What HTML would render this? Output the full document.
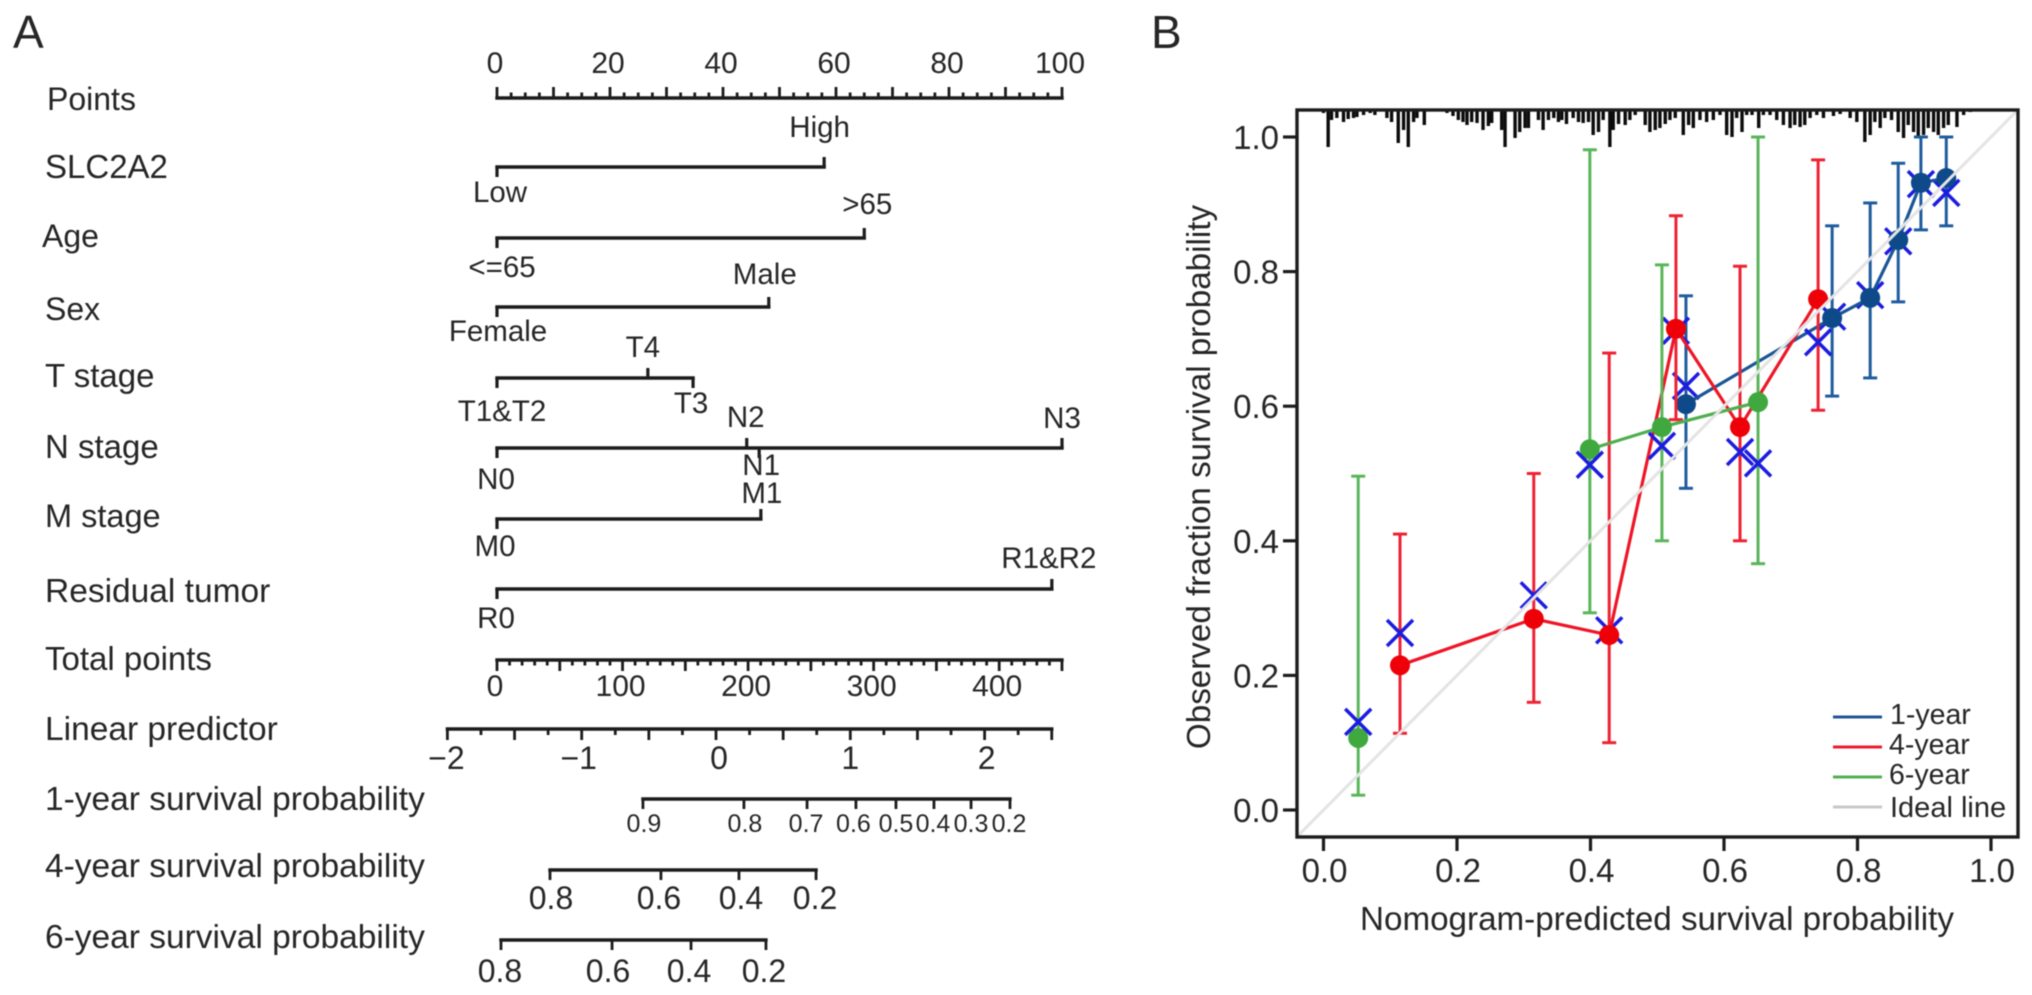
<!DOCTYPE html>
<html lang="en">
<head>
<meta charset="utf-8">
<title>Nomogram and calibration curve</title>
<style>
html,body{margin:0;padding:0;background:#fff;width:2032px;height:995px;overflow:hidden}
svg{display:block;filter:blur(.55px)}
text{font-family:"Liberation Sans",Arial,sans-serif;fill:#262626}
</style>
</head>
<body>
<svg id="fig" xmlns="http://www.w3.org/2000/svg" width="2032" height="995" viewBox="0 0 2032 995">
  <rect width="2032" height="995" fill="#fff"/>
  <text x="13" y="48" font-size="46">A</text>
  <text x="1151" y="48" font-size="46">B</text>

  <g id="nomogram">
    <text x="47" y="110" font-size="32">Points</text>
    <text x="45" y="178" font-size="33">SLC2A2</text>
    <text x="42" y="247" font-size="32">Age</text>
    <text x="45" y="320" font-size="32">Sex</text>
    <text x="45" y="387" font-size="33">T stage</text>
    <text x="45" y="458" font-size="33">N stage</text>
    <text x="45" y="527" font-size="32.5">M stage</text>
    <text x="45" y="602" font-size="33.5">Residual tumor</text>
    <text x="45" y="670" font-size="33">Total points</text>
    <text x="45" y="740" font-size="33.5">Linear predictor</text>
    <text x="45" y="810" font-size="33.5">1-year survival probability</text>
    <text x="45" y="877" font-size="33.5">4-year survival probability</text>
    <text x="45" y="948" font-size="33.5">6-year survival probability</text>
  </g>

  <g id="calibration">
    <text transform="translate(1210,477) rotate(-90)" text-anchor="middle" font-size="33.2">Observed fraction survival probability</text>
    <text x="1657" y="930" text-anchor="middle" font-size="33.2">Nomogram-predicted survival probability</text>
  </g>

  <g id="legend">
    <line x1="1833" x2="1882" y1="717" y2="717" stroke="#1f5596" stroke-width="3"/>
    <text x="1890" y="724" font-size="28.5">1-year</text>
    <line x1="1833" x2="1882" y1="747" y2="747" stroke="#ee1c2e" stroke-width="3"/>
    <text x="1889" y="754" font-size="28.5">4-year</text>
    <line x1="1833" x2="1882" y1="777" y2="777" stroke="#52b152" stroke-width="3"/>
    <text x="1889" y="784" font-size="28.5">6-year</text>
    <line x1="1833" x2="1882" y1="807" y2="807" stroke="#c8c8c8" stroke-width="3"/>
    <text x="1890" y="817" font-size="29">Ideal line</text>
  </g>
</svg>

<script>
/* ---------- Nomogram values ---------- */
const pointsTickLabels = ['0','20','40','60','80','100'];
const pointsTickValues = [0,20,40,60,80,100];
const categoryLabels = [['Low','High'],['<=65','>65'],['Female','Male'],['T1&T2','T4','T3'],['N0','N2','N1','N3'],['M0','M1'],['R0','R1&R2']];
const categoryPoints = [[0,57.9],[0,65],[0,48.1],[0,26.7,34.7],[0,44.2,46.4,100],[0,46.7],[0,98.2]];
const totalTickValues = [0,100,200,300,400];
const totalTickLabels = ['0','100','200','300','400'];
const predictorTickValues = [-2,-1,0,1,2];
const predictorTickLabels = ['\u22122','\u22121','0','1','2'];
const oneYearLabels = ['0.9','0.8','0.7','0.6','0.5','0.4','0.3','0.2'];
const oneYearPredictor = [-0.544,0.208,0.678,1.042,1.340,1.623,1.899,2.189];
const fourYearLabels = ['0.8','0.6','0.4','0.2'];
const fourYearPredictor = [-1.236,-0.41,0.171,0.745];
const sixYearLabels = ['0.8','0.6','0.4','0.2'];
const sixYearPredictor = [-1.601,-0.774,-0.186,0.372];

/* ---------- Calibration values ---------- */
const axisTickValues = [0,0.2,0.4,0.6,0.8,1];
const axisTickLabels = ['0.0','0.2','0.4','0.6','0.8','1.0'];
const oneYearPred = [0.543,0.762,0.819,0.861,0.895,0.933];
const oneYearObs = [0.603,0.731,0.761,0.847,0.932,0.939];
const oneYearLow = [0.478,0.615,0.642,0.755,0.862,0.868];
const oneYearHigh = [0.764,0.868,0.902,0.961,1.0,1.0];
const oneYearCross = [0.63,0.733,0.765,0.845,0.93,0.917];
const fourYearPred = [0.1146,0.315,0.428,0.528,0.624,0.741];
const fourYearObs = [0.215,0.284,0.26,0.715,0.569,0.759];
const fourYearLow = [0.114,0.16,0.10,0.58,0.40,0.594];
const fourYearHigh = [0.41,0.50,0.679,0.883,0.808,0.966];
const fourYearCross = [0.263,0.319,0.267,0.712,0.532,0.695];
const sixYearPred = [0.052,0.399,0.507,0.651];
const sixYearObs = [0.107,0.536,0.569,0.606];
const sixYearLow = [0.022,0.293,0.40,0.366];
const sixYearHigh = [0.496,0.981,0.81,1.0];
const sixYearCross = [0.131,0.513,0.541,0.515];
const rugPredicted = [0,.007,.012,.020,.030,.037,.045,.050,.060,.070,.077,.095,.102,.112,.120,.127,.135,.140,.151,.185,.194,.202,.209,.215,.222,.230,.239,.247,.252,.267,.272,.287,.294,.302,.307,.322,.329,.337,.345,.352,.357,.364,.374,.382,.389,.397,.404,.412,.419,.429,.434,.442,.452,.459,.467,.482,.489,.497,.504,.512,.519,.527,.539,.547,.554,.564,.574,.584,.594,.604,.612,.619,.627,.634,.642,.652,.659,.669,.679,.689,.699,.706,.714,.721,.729,.739,.749,.764,.774,.789,.799,.811,.819,.826,.834,.841,.851,.861,.869,.876,.884,.891,.899,.906,.914,.921,.929,.936,.949,.959,.969];
const rugCounts = [3,37,10,8,12,9,8,7,5,3,5,8,12,33,20,37,12,8,15,3,6,10,12,15,12,13,20,16,13,20,37,28,22,18,18,10,20,10,8,12,10,14,8,12,13,12,25,22,10,37,20,14,15,10,5,15,22,20,18,14,10,8,25,15,18,10,12,10,5,25,27,8,22,5,5,18,5,5,10,15,18,15,17,15,8,5,8,6,4,8,12,32,25,12,18,8,10,22,28,15,22,28,25,18,22,25,18,15,17,5,2];

/* ---------- Scales ---------- */
function xPoints(v){ return 497 + 5.65 * v; }
function xTotal(v){ return 497 + 1.2555 * v; }
function xPredictor(v){ return 716 + 134.3 * v; }
function xProb(v){ return 1323.5 + 667.5 * v; }
function yProb(v){ return 810 - 673 * v; }

/* ---------- Drawing helpers ---------- */
const NS = 'http://www.w3.org/2000/svg';
const INK = '#1c1c1c';
const nomoGroup = document.getElementById('nomogram');
const calGroup = document.getElementById('calibration');

function drawLine(parent, name, x1, y1, x2, y2, color, width, cap){
  const el = document.createElementNS(NS, 'line');
  
  
  el.setAttribute('x1', x1);
  el.setAttribute('y1', y1);
  el.setAttribute('x2', x2);
  el.setAttribute('y2', y2);
  el.setAttribute('stroke', color);
  el.setAttribute('stroke-width', width);
  el.setAttribute('stroke-linecap', cap || 'square');
  parent.appendChild(el);
  return el;
}
function drawText(parent, name, str, x, y, size, anchor){
  const el = document.createElementNS(NS, 'text');
  
  
  el.setAttribute('x', x);
  el.setAttribute('y', y);
  el.setAttribute('font-size', size);
  el.setAttribute('text-anchor', anchor || 'middle');
  el.textContent = str;
  parent.appendChild(el);
  return el;
}
function drawCircle(parent, name, cx, cy, r, color){
  const el = document.createElementNS(NS, 'circle');
  
  
  el.setAttribute('cx', cx);
  el.setAttribute('cy', cy);
  el.setAttribute('r', r);
  el.setAttribute('fill', color);
  parent.appendChild(el);
  return el;
}

/* ---------- Points axis ---------- */
const pointsY = 98;
drawLine(nomoGroup, 'points-axis-line', xPoints(0), pointsY, xPoints(100), pointsY, INK, 3.4);
for (let i = 0; i <= 40; i++) {
  const v = i * 2.5;
  drawLine(nomoGroup, 'points-tick', xPoints(v), pointsY, xPoints(v), pointsY - (i % 4 === 0 ? 11 : 5.5), INK, 2.8, 'butt');
}
pointsTickValues.forEach(function(v, i){
  drawText(nomoGroup, 'points-tick-label', pointsTickLabels[i], xPoints(v) - 2, 73, 30);
});

/* ---------- Categorical rows ---------- */
const rowBaselines = [167,238,307,378,448,519,589];
const rowSlugs = ['slc2a2','age','sex','t-stage','n-stage','m-stage','residual-tumor'];
const tickDirections = [[1,-1],[1,-1],[1,-1],[1,-1,1],[1,-1,1,-1],[1,-1],[1,-1]];
const labelShiftX = [[3,-4.5],[5,3],[1,-4],[5,-5,-2],[-1,-1,2,0],[-2,1],[-1,-3]];
const labelShiftY = [[35,-30],[39,-24],[34,-23],[43,-21,35],[41,-21,27,-20],[37,-16],[39,-21]];
categoryLabels.forEach(function(labels, r){
  const y = rowBaselines[r];
  const pts = categoryPoints[r];
  const top = Math.max.apply(null, pts);
  drawLine(nomoGroup, rowSlugs[r] + '-axis-line', xPoints(0), y, xPoints(top), y, INK, 3.4);
  labels.forEach(function(label, i){
    const x = xPoints(pts[i]);
    drawLine(nomoGroup, rowSlugs[r] + '-tick', x, y, x, y + 10 * tickDirections[r][i], INK, 3.2, 'butt');
    drawText(nomoGroup, rowSlugs[r] + '-level-label', label, x + labelShiftX[r][i], y + labelShiftY[r][i], 29.5);
  });
});

/* ---------- Total points axis ---------- */
const totalY = 660;
drawLine(nomoGroup, 'total-points-axis-line', xTotal(0), totalY, xTotal(450), totalY, INK, 3.4);
for (let i = 0; i <= 45; i++) {
  const v = i * 10;
  drawLine(nomoGroup, 'total-points-tick', xTotal(v), totalY, xTotal(v), totalY + (i % 5 === 0 ? 11 : 5.5), INK, 2.8, 'butt');
}
totalTickValues.forEach(function(v, i){
  drawText(nomoGroup, 'total-points-tick-label', totalTickLabels[i], xTotal(v) - 2, 696, 30);
});

/* ---------- Linear predictor axis ---------- */
const predictorY = 729;
const predictorLabelShift = [-1,-3,3,0,2];
drawLine(nomoGroup, 'linear-predictor-axis-line', xPredictor(-2), predictorY, xPredictor(2.5), predictorY, INK, 3.4);
for (let i = 0; i <= 18; i++) {
  const v = -2 + i * 0.25;
  drawLine(nomoGroup, 'linear-predictor-tick', xPredictor(v), predictorY, xPredictor(v), predictorY + (i % 2 === 0 ? 11 : 6), INK, 2.8, 'butt');
}
predictorTickValues.forEach(function(v, i){
  drawText(nomoGroup, 'linear-predictor-tick-label', predictorTickLabels[i], xPredictor(v) + predictorLabelShift[i], 769, 32);
});

/* ---------- Survival probability axes ---------- */
function drawSurvivalAxis(slug, y, values, labels, labelY, size, shift){
  drawLine(nomoGroup, slug + '-axis-line', xPredictor(values[0]), y, xPredictor(values[values.length - 1]), y, INK, 3.4);
  values.forEach(function(v, i){
    const x = xPredictor(v);
    drawLine(nomoGroup, slug + '-tick', x, y, x, y + 10, INK, 2.8, 'butt');
    drawText(nomoGroup, slug + '-tick-label', labels[i], x + shift[i], labelY, size);
  });
}
drawSurvivalAxis('one-year-survival', 799, oneYearPredictor, oneYearLabels, 832, 25, [1,1,-1,-2.5,0,-1,0,-1]);
drawSurvivalAxis('four-year-survival', 870, fourYearPredictor, fourYearLabels, 909, 32, [1,-2,2,-1]);
drawSurvivalAxis('six-year-survival', 940, sixYearPredictor, sixYearLabels, 982, 32, [-1,-4,-2,-2]);

/* ---------- Calibration plot ---------- */
rugPredicted.forEach(function(v, i){
  drawLine(calGroup, 'rug-tick', xProb(v), 110, xProb(v), 110 + rugCounts[i], '#0c0c0c', 3.4, 'butt');
});

axisTickValues.forEach(function(v, i){
  drawLine(calGroup, 'x-axis-tick', xProb(v), 837, xProb(v), 851, INK, 3.2, 'butt');
  drawText(calGroup, 'x-axis-tick-label', axisTickLabels[i], xProb(v) + 1, 882, 33);
  drawLine(calGroup, 'y-axis-tick', 1297, yProb(v), 1283, yProb(v), INK, 3.2, 'butt');
  drawText(calGroup, 'y-axis-tick-label', axisTickLabels[i], 1279, yProb(v) + 12, 33, 'end');
});

function drawSeries(slug, pred, obs, low, high, cross, firstSegment, lineColor, barColor, dotColor, crossOnTop){
  function crossMark(i){
    const cx = xProb(pred[i]);
    const cy = yProb(cross[i]);
    drawLine(calGroup, slug + '-km-cross', cx - 13, cy - 13, cx + 13, cy + 13, '#1c1ce0', 3.5, 'butt');
    drawLine(calGroup, slug + '-km-cross', cx - 13, cy + 13, cx + 13, cy - 13, '#1c1ce0', 3.5, 'butt');
  }
  pred.forEach(function(p, i){
    const x = xProb(p);
    drawLine(calGroup, slug + '-error-bar', x, yProb(low[i]), x, yProb(high[i]), barColor, 3, 'butt');
    drawLine(calGroup, slug + '-error-cap-low', x - 7, yProb(low[i]), x + 7, yProb(low[i]), barColor, 3, 'butt');
    drawLine(calGroup, slug + '-error-cap-high', x - 7, yProb(high[i]), x + 7, yProb(high[i]), barColor, 3, 'butt');
  });
  if (!crossOnTop) { pred.forEach(function(p, i){ crossMark(i); }); }
  for (let i = firstSegment; i < pred.length - 1; i++) {
    drawLine(calGroup, slug + '-line-segment', xProb(pred[i]), yProb(obs[i]), xProb(pred[i + 1]), yProb(obs[i + 1]), lineColor, 3.2, 'butt');
  }
  pred.forEach(function(p, i){
    drawCircle(calGroup, slug + '-point', xProb(p), yProb(obs[i]), 10, dotColor);
  });
  if (crossOnTop) { pred.forEach(function(p, i){ crossMark(i); }); }
}
drawSeries('one-year', oneYearPred, oneYearObs, oneYearLow, oneYearHigh, oneYearCross, 0, '#1a5596', '#1f5c9e', '#0e4a8a', false);
drawSeries('four-year', fourYearPred, fourYearObs, fourYearLow, fourYearHigh, fourYearCross, 0, '#ee1526', '#ee2233', '#ee0008', false);
drawSeries('six-year', sixYearPred, sixYearObs, sixYearLow, sixYearHigh, sixYearCross, 1, '#4fae4f', '#5ab55a', '#3fa93f', true);

drawLine(calGroup, 'ideal-line', xProb(-0.04), yProb(-0.04), xProb(1.04), yProb(1.04), '#e4e4e4', 3, 'butt');

const frame = document.createElementNS(NS, 'rect');


frame.setAttribute('x', 1297);
frame.setAttribute('y', 110);
frame.setAttribute('width', 721);
frame.setAttribute('height', 727);
frame.setAttribute('fill', 'none');
frame.setAttribute('stroke', INK);
frame.setAttribute('stroke-width', 3.4);
calGroup.appendChild(frame);
</script>
</body>
</html>
